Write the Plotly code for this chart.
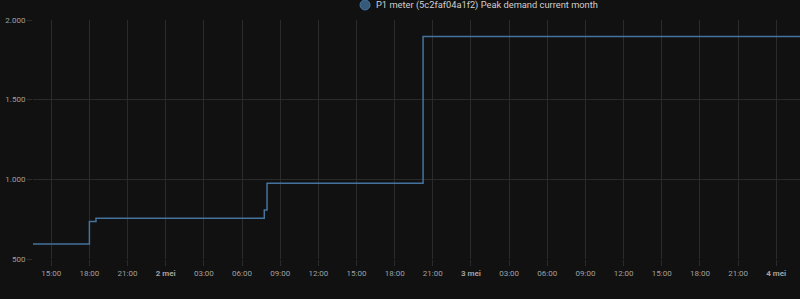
import plotly.graph_objects as go

# Step series (state changes) of the sensor
times = ["2024-05-01 13:34", "2024-05-01 18:00", "2024-05-01 18:31",
         "2024-05-02 07:45", "2024-05-02 07:58", "2024-05-02 20:14",
         "2024-05-04 01:52"]
values = [594, 736, 755, 808, 975, 1897, 1897]

series_name = "P1 meter (5c2faf04a1f2) Peak demand current month"

tick_times = ["2024-05-01 15:00", "2024-05-01 18:00", "2024-05-01 21:00",
              "2024-05-02 00:00", "2024-05-02 03:00", "2024-05-02 06:00",
              "2024-05-02 09:00", "2024-05-02 12:00", "2024-05-02 15:00",
              "2024-05-02 18:00", "2024-05-02 21:00", "2024-05-03 00:00",
              "2024-05-03 03:00", "2024-05-03 06:00", "2024-05-03 09:00",
              "2024-05-03 12:00", "2024-05-03 15:00", "2024-05-03 18:00",
              "2024-05-03 21:00", "2024-05-04 00:00"]
tick_labels = ["15:00", "18:00", "21:00", "<b>2 mei</b>", "03:00", "06:00",
               "09:00", "12:00", "15:00", "18:00", "21:00", "<b>3 mei</b>",
               "03:00", "06:00", "09:00", "12:00", "15:00", "18:00",
               "21:00", "<b>4 mei</b>"]
y_ticks = [500, 1000, 1500, 2000]

line_color = "#44739e"
bg = "#111111"
grid = "#2b2b2b"

fig = go.Figure()
fig.add_trace(go.Scatter(
    x=times, y=values, mode="lines", line_shape="hv",
    line=dict(color=line_color, width=1.5),
    name=series_name, showlegend=False, hoverinfo="skip"))

fig.update_layout(
    width=800, height=299,
    margin=dict(l=33, r=0, t=20, b=40),
    paper_bgcolor=bg, plot_bgcolor=bg,
    separators=",.",
    font=dict(family="Roboto", color="#9a9a9a", size=8),
    showlegend=False,
)
fig.update_xaxes(
    range=[times[0], times[-1]],
    tickmode="array", tickvals=tick_times, ticktext=tick_labels,
    showgrid=True, gridcolor=grid, gridwidth=1,
    ticks="outside", ticklen=6, tickcolor=grid,
    showline=False, zeroline=False,
    tickfont=dict(size=8, color="#a0a0a0"),
)
fig.update_yaxes(
    range=[500, 2000], tickmode="array", tickvals=y_ticks,
    tickformat=",d",
    showgrid=True, gridcolor=grid, gridwidth=1,
    ticks="outside", ticklen=5, tickcolor=grid,
    showline=False, zeroline=False,
    tickfont=dict(size=8, color="#a0a0a0"),
)

# Custom legend (circle + text) above the plot
fig.add_shape(type="circle", xref="paper", yref="paper",
              xsizemode="pixel", ysizemode="pixel",
              xanchor=0.4329, yanchor=1.0628,
              x0=-5, x1=5, y0=-5, y1=5,
              fillcolor="rgba(68,115,158,0.75)",
              line=dict(color="#44739e", width=1))
fig.add_annotation(xref="paper", yref="paper", x=0.4446, y=1.0628,
                   xanchor="left", yanchor="middle", showarrow=False,
                   text=series_name,
                   font=dict(family="Roboto", size=9.3, color="#cfcfcf"))

fig.write_html("out.html")
